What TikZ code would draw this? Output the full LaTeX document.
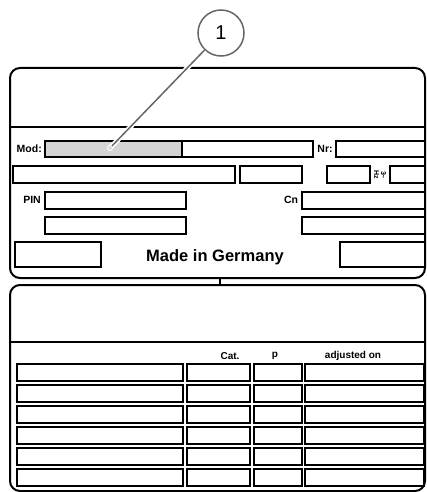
\documentclass[tikz,border=0pt]{standalone}
\usepackage{fontspec}
\setmainfont{Liberation Sans}
\usetikzlibrary{fit}
\begin{document}
\begin{tikzpicture}[x=1pt,y=-1pt,
  panel/.style={draw=black,line width=2pt,rounded corners=10pt},
  box/.style={draw=black,line width=1.7pt,fill=white,inner sep=0pt,outer sep=0pt},
  graybox/.style={box,fill=black!17},
  lbl/.style={font=\bfseries\fontsize{10.5}{10.5}\selectfont,inner sep=0pt},
  hdr/.style={font=\bfseries\fontsize{10}{10}\selectfont,inner sep=0pt},
  leader/.style={draw=black!60,line width=1.5pt},
  callout/.style={circle,draw=black!60,line width=1.5pt,fill=white,minimum size=46pt,inner sep=0pt,font=\fontsize{20}{20}\selectfont}]
\useasboundingbox[fill=white] (0,0) rectangle (427,492);
% panels
\draw[panel] (10,68) rectangle (425,278);
\draw[panel] (10,285) rectangle (425,491);
\draw[line width=2pt] (10,127) -- (425,127);
\draw[line width=2pt] (10,342) -- (425,342);
\coordinate (ja) at (220,278);
\coordinate (jb) at (220,285);
\draw[line width=1.2pt] (ja) -- (jb);
% row 1
\node[graybox,fit={(45,141)(182,157)}] (mod) {};
\node[box,fit={(182,141)(313,157)}] (modb) {};
\node[box,fit={(336,141)(425,157)}] (nr) {};
\node[lbl,anchor=east] (modl) at (42,149) {Mod:};
\node[lbl] (nrl) at (325,149) {Nr:};
% row 2
\node[box,fit={(13,166)(235,183)}] (r2a) {};
\node[box,fit={(240,166)(302,183)}] (r2b) {};
\node[box,fit={(327,166)(370,183)}] (r2c) {};
\node[box,fit={(390,166)(425,183)}] (r2d) {};
\node[lbl,rotate=-90,font=\bfseries\fontsize{7}{7}\selectfont,align=center] (r2l) at (380,175) {3\textasciitilde\\Hz};
% row 3
\node[box,fit={(45,192)(186,209)}] (pin) {};
\node[box,fit={(302,192)(425,209)}] (cn) {};
\node[lbl,anchor=east] (pinl) at (41,200) {PIN};
\node[lbl] (cnl) at (291,200) {Cn};
% row 4
\node[box,fit={(45,217)(186,234)}] (r4a) {};
\node[box,fit={(302,217)(425,234)}] (r4b) {};
% row 5
\node[box,fit={(15,242)(101,267)}] (r5a) {};
\node[box,fit={(340,242)(425,267)}] (r5b) {};
\node[inner sep=0pt,font=\bfseries\fontsize{16.5}{16.5}\selectfont] (mig) at (215,257) {Made in Germany};
% table headers
\node[hdr] (hcat) at (230,356) {Cat.};
\node[hdr] (hp) at (275,356) {p};
\node[hdr] (hadj) at (353,356) {adjusted on};
% table
\foreach \i/\t in {1/364,2/385,3/406,4/427,5/448,6/469}{
  \node[box,fit={(17,\t)(183,\t+17)}] (t\i a) {};
  \node[box,fit={(187,\t)(250,\t+17)}] (t\i b) {};
  \node[box,fit={(254,\t)(302,\t+17)}] (t\i c) {};
  \node[box,fit={(305,\t)(424,\t+17)}] (t\i d) {};
}
% callout
\node[callout] (c1) at (221,33) {1};
\coordinate (tip) at (110,148);
\draw[white,line width=5pt] (c1) -- (tip);
\draw[leader] (c1) -- (tip);
\node[circle,fill=black!15,draw=white,line width=0.8pt,minimum size=5pt,inner sep=0pt] (tipdot) at (tip) {};
\end{tikzpicture}
\end{document}
